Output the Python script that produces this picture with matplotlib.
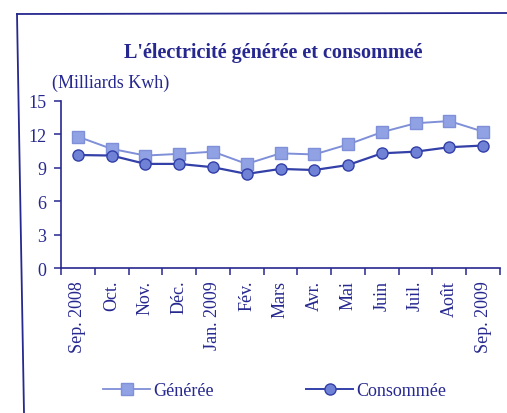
import matplotlib
matplotlib.use("Agg")
from matplotlib import pyplot as plt
from matplotlib.lines import Line2D

plt.rcParams['font.family'] = ['Liberation Serif', 'DejaVu Serif']

# données
mois = ["Sep. 2008", "Oct.", "Nov.", "Déc.", "Jan. 2009", "Fév.", "Mars",
        "Avr.", "Mai", "Juin", "Juil.", "Août", "Sep. 2009"]
generee = [11.8, 10.7, 10.1, 10.25, 10.45, 9.35, 10.3, 10.2, 11.1, 12.2, 13.0, 13.2, 12.25]
consommee = [10.15, 10.1, 9.35, 9.35, 9.05, 8.45, 8.9, 8.8, 9.25, 10.3, 10.45, 10.85, 11.0]
yticks = [0, 3, 6, 9, 12, 15]

ink = "#26288f"
col_gen_line = "#7f8fd8"
col_gen_face = "#90a2e4"
col_con_line = "#3340a8"
col_con_face = "#6f82d6"
fs = 13

W, H = 507, 414
fig = plt.figure(figsize=(W / 100, H / 100), dpi=100)
ax = fig.add_axes([61 / W, 1 - 269 / H, (500 - 61) / W, (269 - 102) / H])

x = list(range(len(mois)))
ax.plot(x, generee, color=col_gen_line, lw=1.4, marker="s", ms=8,
        mfc=col_gen_face, mec=col_gen_line, mew=1.0, zorder=2)
ax.plot(x, consommee, color=col_con_line, lw=1.6, marker="o", ms=8,
        mfc=col_con_face, mec=col_con_line, mew=1.0, zorder=3)

ax.set_xlim(-0.5, len(mois) - 0.5)
ax.set_ylim(0, 15)
ax.set_yticks(yticks)
ax.set_yticklabels([str(v) for v in yticks])

# ticks majeurs entre les mois, étiquettes au centre
ax.set_xticks([i - 0.5 for i in range(len(mois) + 1)])
ax.set_xticklabels([])
ax.set_xticks(x, minor=True)
ax.set_xticklabels(mois, minor=True, rotation=90, va="top", ha="center")
ax.tick_params(axis="x", which="minor", length=0, pad=8.5, labelsize=fs, labelcolor=ink)
ax.tick_params(axis="x", which="major", length=5, width=1.1, color=ink, direction="out")
ax.tick_params(axis="y", length=5, width=1.1, color=ink, labelsize=fs,
               labelcolor=ink, pad=5.5)

for s in ["top", "right"]:
    ax.spines[s].set_visible(False)
for s in ["left", "bottom"]:
    ax.spines[s].set_color(ink)
    ax.spines[s].set_linewidth(1.2)

fig.text(273 / W, 1 - 53 / H, "L'électricité générée et consommeé", ha="center",
         va="center", fontsize=14.5, fontweight="bold", color=ink)
fig.text(52 / W, 1 - 83 / H, "(Milliards Kwh)", ha="left", va="center",
         fontsize=fs, color=ink)

# cadre du scan
fig.add_artist(Line2D([17 / W, 1.0], [1 - 15 / H, 1 - 14 / H], color=ink, lw=1.3))
fig.add_artist(Line2D([17 / W, 24 / W], [1 - 15 / H, 0.0], color=ink, lw=1.3))

h_gen = Line2D([], [], color=col_gen_line, lw=1.3, marker="s", ms=8,
               mfc=col_gen_face, mec=col_gen_line)
h_con = Line2D([], [], color=col_con_line, lw=1.4, marker="o", ms=8,
               mfc=col_con_face, mec=col_con_line)
leg1 = fig.legend([h_gen], ["Générée"], loc="center left",
                  bbox_to_anchor=(87 / W, 1 - 392 / H), frameon=False,
                  fontsize=fs, labelcolor=ink, handlelength=2.6, handletextpad=0.15)
leg2 = fig.legend([h_con], ["Consommée"], loc="center left",
                  bbox_to_anchor=(290 / W, 1 - 392 / H), frameon=False,
                  fontsize=fs, labelcolor=ink, handlelength=2.6, handletextpad=0.15)

fig.savefig("out.png", dpi=100)
